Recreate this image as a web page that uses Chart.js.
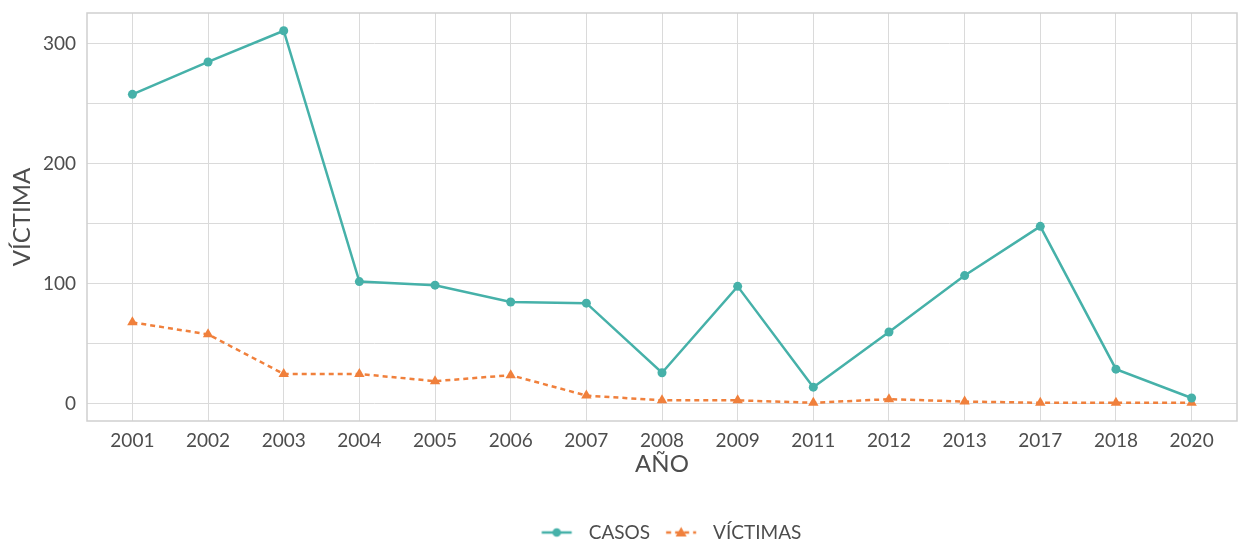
<!DOCTYPE html>
<html><head><meta charset="utf-8">
<script src="https://cdn.jsdelivr.net/npm/chart.js@4"></script>
<style>html,body{margin:0;padding:0;background:#fff}</style>
</head><body>
<canvas id="c" width="1239" height="544"></canvas>
<script>
const years = ['2001','2002','2003','2004','2005','2006','2007','2008','2009','2011','2012','2013','2017','2018','2020'];
const casos = [258, 285, 311, 102, 99, 85, 84, 26, 98, 14, 60, 107, 148, 29, 5];
const victimas = [68, 58, 25, 25, 19, 24, 7, 3, 3, 1, 4, 2, 1, 1, 1];
const yTickValues = [0, 50, 100, 150, 200, 250, 300];
const seriesNames = ['CASOS', 'VÍCTIMAS'];

const TEAL = '#46b1a9';
const ORANGE = '#f0803c';
const TXT = '#4d4d4d';
const FONT = 'Lato';

function legendIcon(color, dashed, marker) {
  const cv = document.createElement('canvas');
  cv.width = 40; cv.height = 14;
  const g = cv.getContext('2d');
  const x0 = 7.25, x1 = 37.25, cy = 7;
  g.strokeStyle = color; g.lineWidth = 2.5;
  if (dashed) g.setLineDash([5, 4]);
  g.beginPath(); g.moveTo(x0, cy); g.lineTo(x1, cy); g.stroke();
  g.setLineDash([]);
  g.fillStyle = color;
  const cx = (x0 + x1) / 2;
  if (marker === 'circle') {
    g.beginPath(); g.arc(cx, cy, 4.3, 0, Math.PI * 2); g.fill();
  } else {
    g.beginPath(); g.moveTo(cx, cy - 5.5); g.lineTo(cx + 5.5, cy + 4); g.lineTo(cx - 5.5, cy + 4); g.closePath(); g.fill();
  }
  return cv;
}
const icons = [legendIcon(TEAL, false, 'circle'), legendIcon(ORANGE, true, 'triangle')];

const panelBorder = {
  id: 'panelBorder',
  beforeDatasetsDraw(chart) {
    const a = chart.chartArea, ctx = chart.ctx;
    ctx.save();
    ctx.strokeStyle = '#cfcfcf'; ctx.lineWidth = 1.5;
    ctx.strokeRect(a.left, a.top, a.right - a.left, a.bottom - a.top);
    ctx.restore();
  }
};
const legendShift = {
  id: 'legendShift',
  beforeDraw(chart) {
    const lg = chart.legend;
    if (lg && !lg._shifted) { lg.left += 94; lg.top += 8; lg.bottom += 8; lg._shifted = true; }
  }
};

new Chart(document.getElementById('c'), {
  type: 'line',
  data: {
    datasets: [
      {
        label: seriesNames[0],
        data: casos.map((v, i) => ({x: i, y: v})),
        borderColor: TEAL, backgroundColor: TEAL,
        borderWidth: 2.5, pointRadius: 4.5, pointStyle: 'circle',
        pointBorderWidth: 0, tension: 0
      },
      {
        label: seriesNames[1],
        data: victimas.map((v, i) => ({x: i, y: v})),
        borderColor: ORANGE, backgroundColor: ORANGE,
        borderWidth: 2.5, borderDash: [5, 4], pointRadius: 6, pointStyle: 'triangle',
        pointBorderWidth: 0, tension: 0
      }
    ]
  },
  options: {
    responsive: false,
    animation: false,
    layout: {autoPadding: false, padding: {top: 13, right: 2, left: 0, bottom: 0}},
    plugins: {
      tooltip: {enabled: false},
      legend: {
        position: 'bottom',
        labels: {
          usePointStyle: true,
          pointStyleWidth: 49.5,
          padding: 4,
          color: TXT,
          font: {family: FONT, size: 19},
          generateLabels(chart) {
            return chart.data.datasets.map((ds, i) => ({
              text: ds.label, pointStyle: icons[i], fillStyle: ds.borderColor,
              strokeStyle: ds.borderColor, lineWidth: 0, fontColor: TXT, datasetIndex: i, hidden: false
            }));
          }
        }
      }
    },
    scales: {
      x: {
        type: 'linear', min: -0.6, max: 14.6,
        afterBuildTicks(scale) { scale.ticks = years.map((_, i) => ({value: i})); },
        afterFit(scale) { scale.height = 90; scale.paddingLeft = 0; scale.paddingRight = 0; },
        ticks: {
          autoSkip: false, maxRotation: 0, padding: 8, color: TXT,
          font: {family: FONT, size: 19},
          callback: (v) => years[v]
        },
        grid: {color: '#dadada', lineWidth: 1, drawTicks: false},
        border: {display: false},
        title: {display: true, text: 'AÑO', color: TXT, font: {family: FONT, size: 24}, padding: {top: 0, bottom: 32}}
      },
      y: {
        type: 'linear', min: -14.2, max: 325.8,
        afterBuildTicks(scale) { scale.ticks = yTickValues.map(v => ({value: v})); },
        afterFit(scale) { scale.width = 87; scale.paddingTop = 0; scale.paddingBottom = 0; },
        ticks: {
          padding: 11, color: TXT, font: {family: FONT, size: 19},
          callback: (v) => (v % 100 === 0 ? String(v) : '')
        },
        grid: {color: '#dadada', lineWidth: 1, drawTicks: false},
        border: {display: false},
        title: {display: true, text: 'VÍCTIMA', color: TXT, font: {family: FONT, size: 24}, padding: {top: 8, bottom: 0}}
      }
    }
  },
  plugins: [panelBorder, legendShift]
});
</script>
</body></html>
